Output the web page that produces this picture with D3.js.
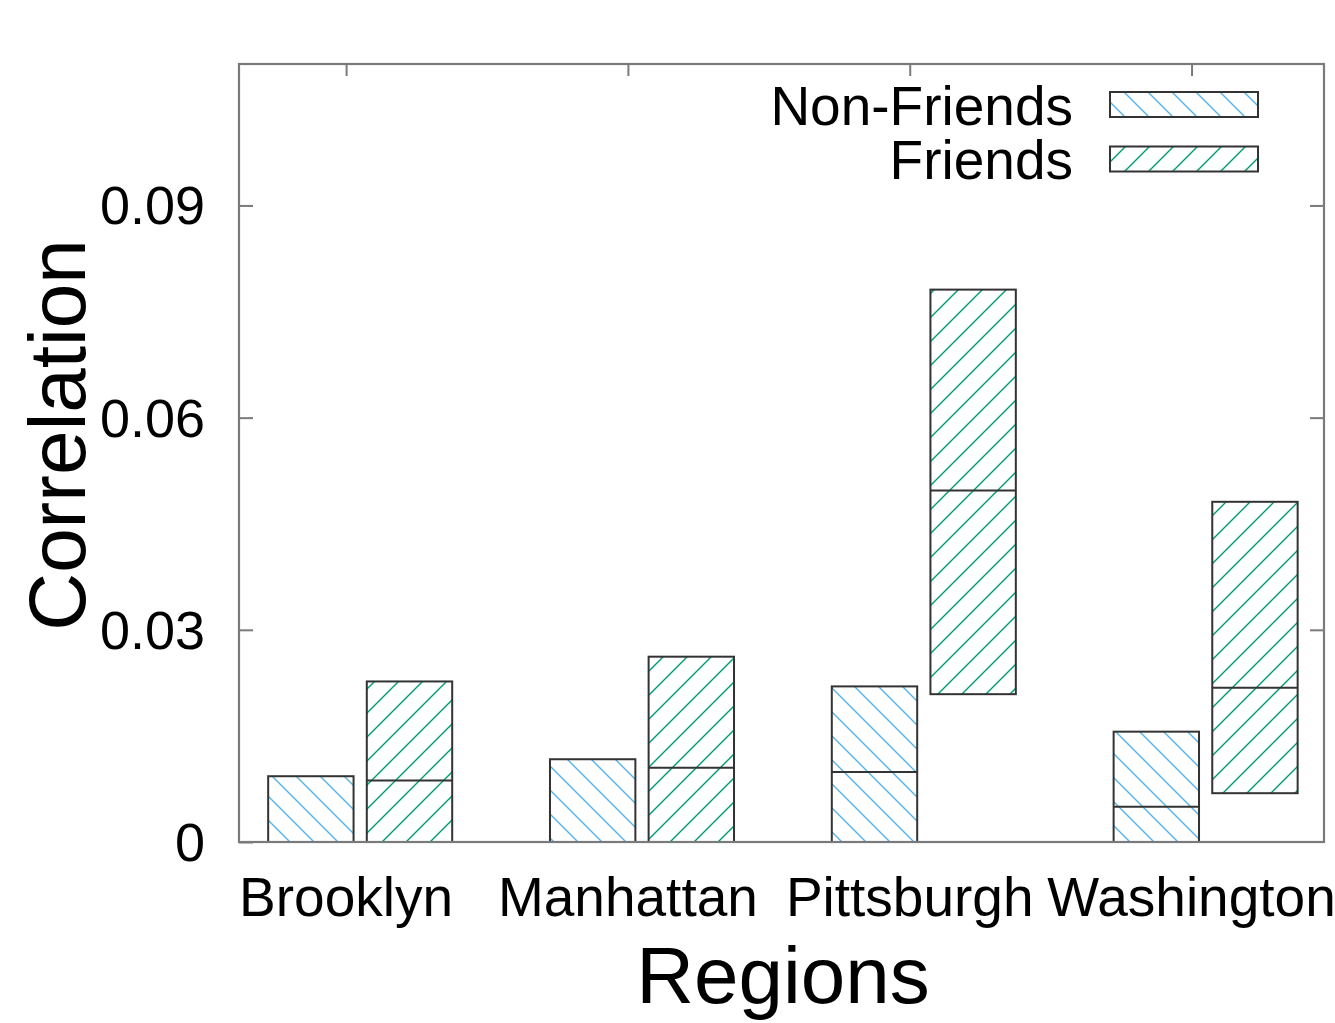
<!DOCTYPE html>
<html>
<head>
<meta charset="utf-8">
<script src="https://cdn.jsdelivr.net/npm/d3@7"></script>
<style>
  html, body { margin: 0; padding: 0; background: #fff; }
  svg { display: block; font-family: "Liberation Sans", Arial, Helvetica, sans-serif; }
</style>
</head>
<body>
<svg id="chart" width="1335" height="1023"></svg>
<script>
// Regions and correlation ranges (low / median / high) for each group
const categories = ["Brooklyn", "Manhattan", "Pittsburgh", "Washington"];
const nonFriendsLow  = [0, 0, 0, 0];
const nonFriendsMid  = [0, 0, 0.0099, 0.0050];
const nonFriendsHigh = [0.0093, 0.0117, 0.0220, 0.0156];
const friendsLow  = [0, 0, 0.0209, 0.0069];
const friendsMid  = [0.0087, 0.0105, 0.0497, 0.0218];
const friendsHigh = [0.0227, 0.0262, 0.0781, 0.0481];
const yTicks = [0, 0.03, 0.06, 0.09];
const yTickLabels = ["0", "0.03", "0.06", "0.09"];
const seriesNames = ["Non-Friends", "Friends"];

const svg = d3.select("#chart");
const plotLeft = 239, plotRight = 1324, plotTop = 64, plotBottom = 842;

const x = d3.scaleLinear().domain([-0.38, 3.47]).range([plotLeft, plotRight]);
const y = d3.scaleLinear().domain([0, 0.11]).range([plotBottom, plotTop]);

const series = [
  { name: seriesNames[0], low: nonFriendsLow, mid: nonFriendsMid, high: nonFriendsHigh,
    offset: -0.125, pat: "hatchBack" },
  { name: seriesNames[1], low: friendsLow, mid: friendsMid, high: friendsHigh,
    offset: 0.225, pat: "hatchFwd" }
];
const boxW = 0.303;

// hatch patterns
const defs = svg.append("defs");
function hatch(id, color, forward) {
  const s = 24;
  const p = defs.append("pattern").attr("id", id)
    .attr("patternUnits", "userSpaceOnUse").attr("width", s).attr("height", s);
  const segs = forward
    ? [[0, s, s, 0], [-s / 2, s / 2, s / 2, -s / 2], [s / 2, s * 1.5, s * 1.5, s / 2]]
    : [[0, 0, s, s], [-s / 2, s / 2, s / 2, s * 1.5], [s / 2, -s / 2, s * 1.5, s / 2]];
  segs.forEach(d => p.append("line")
    .attr("x1", d[0]).attr("y1", d[1]).attr("x2", d[2]).attr("y2", d[3])
    .attr("stroke", color).attr("stroke-width", 1.4));
}
hatch("hatchBack", "#56b4e9", false);
hatch("hatchFwd", "#009e73", true);

// boxes
series.forEach(s => {
  const g = svg.append("g");
  categories.forEach((c, i) => {
    const x0 = x(i + s.offset - boxW / 2), x1 = x(i + s.offset + boxW / 2);
    g.append("rect")
      .attr("x", x0).attr("y", y(s.high[i]))
      .attr("width", x1 - x0).attr("height", y(s.low[i]) - y(s.high[i]))
      .attr("fill", `url(#${s.pat})`)
      .attr("stroke", "#333").attr("stroke-width", 2);
    g.append("line")
      .attr("x1", x0).attr("x2", x1)
      .attr("y1", y(s.mid[i])).attr("y2", y(s.mid[i]))
      .attr("stroke", "#333").attr("stroke-width", 2);
  });
});

// frame and ticks
const frameColor = "#7a7a7a";
svg.append("rect").attr("x", plotLeft).attr("y", plotTop)
  .attr("width", plotRight - plotLeft).attr("height", plotBottom - plotTop)
  .attr("fill", "none").attr("stroke", frameColor).attr("stroke-width", 2.2);

svg.append("g").attr("transform", `translate(${plotLeft},0)`)
  .call(d3.axisRight(y).tickValues(yTicks).tickSize(14).tickFormat(""))
  .call(g => g.select(".domain").remove())
  .call(g => g.selectAll("line").attr("stroke", frameColor).attr("stroke-width", 2));
svg.append("g").attr("transform", `translate(${plotRight},0)`)
  .call(d3.axisLeft(y).tickValues(yTicks.slice(1)).tickSize(14).tickFormat(""))
  .call(g => g.select(".domain").remove())
  .call(g => g.selectAll("line").attr("stroke", frameColor).attr("stroke-width", 2));
svg.append("g").attr("transform", `translate(0,${plotTop})`)
  .call(d3.axisBottom(x).tickValues(d3.range(categories.length)).tickSize(12).tickFormat(""))
  .call(g => g.select(".domain").remove())
  .call(g => g.selectAll("line").attr("stroke", frameColor).attr("stroke-width", 2));

// y tick labels
svg.append("g").selectAll("text").data(yTicks).join("text")
  .attr("x", 205).attr("y", d => y(d) + 19)
  .attr("text-anchor", "end").attr("font-size", 54).attr("fill", "#000")
  .text((d, i) => yTickLabels[i]);

// category labels
svg.append("g").selectAll("text").data(categories).join("text")
  .attr("x", (d, i) => x(i)).attr("y", 916)
  .attr("text-anchor", "middle").attr("font-size", 55).attr("fill", "#000")
  .text(d => d);

// axis titles
svg.append("text").attr("x", 783).attr("y", 1003)
  .attr("text-anchor", "middle").attr("font-size", 80).attr("fill", "#000")
  .text("Regions");
svg.append("text").attr("transform", "translate(85,435) rotate(-90)")
  .attr("text-anchor", "middle").attr("font-size", 80).attr("fill", "#000")
  .text("Correlation");

// legend
const legendRows = [104.5, 159];
series.forEach((s, k) => {
  const cy = legendRows[k];
  svg.append("text").attr("x", 1073).attr("y", cy + 20)
    .attr("text-anchor", "end").attr("font-size", 55).attr("fill", "#000")
    .text(s.name);
  svg.append("rect").attr("x", 1110).attr("y", cy - 12.5)
    .attr("width", 148).attr("height", 25)
    .attr("fill", `url(#${s.pat})`).attr("stroke", "#333").attr("stroke-width", 2);
});
</script>
</body>
</html>
